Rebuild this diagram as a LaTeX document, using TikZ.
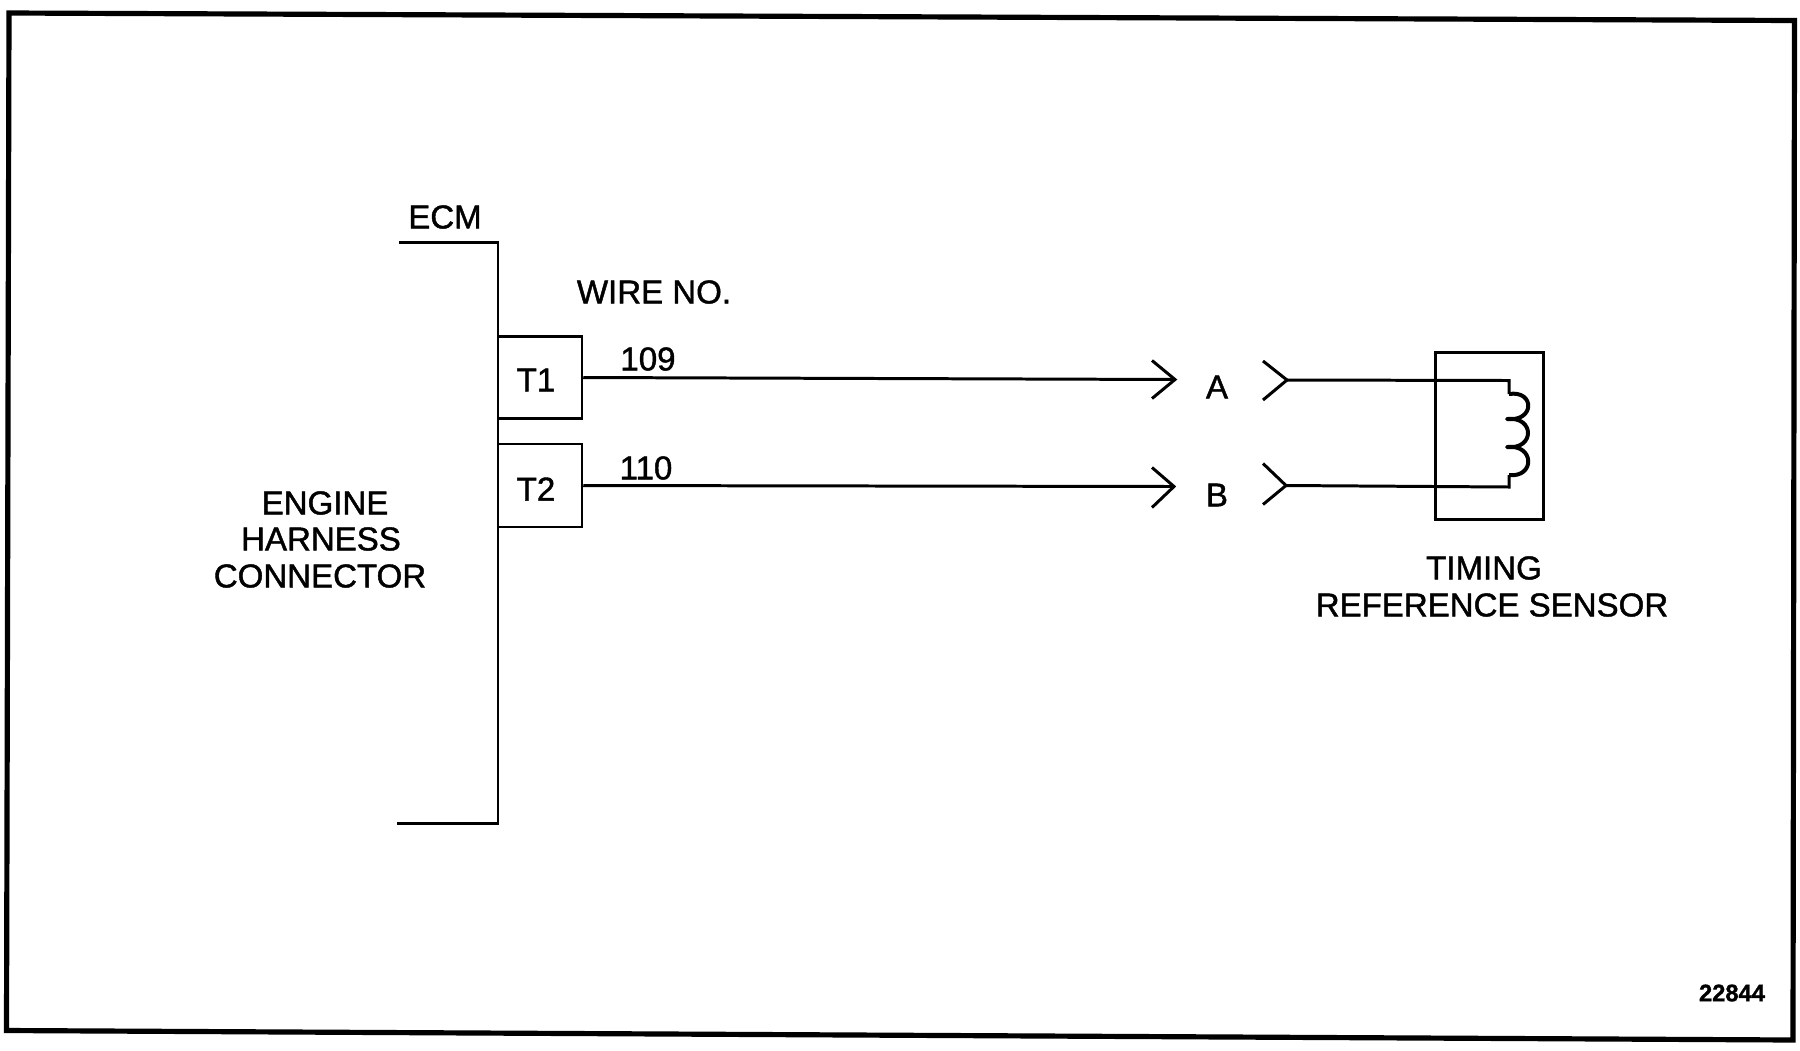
\documentclass[tikz,border=0pt]{standalone}
\usepackage{fontspec}
\setmainfont[FakeBold=1.3]{Liberation Sans}
\tikzset{
  lbl/.style={inner sep=0pt,font=\fontsize{18.8}{21}\selectfont},
  tiny lbl/.style={inner sep=0pt,font=\fontsize{13.5}{16}\selectfont\bfseries},
  pinbox/.style={draw,line width=2.5*0.567pt,minimum width=84*0.2mm,minimum height=82*0.2mm,inner sep=0pt},
  wire/.style={line width=3*0.567pt},
  bracket/.style={line width=3*0.567pt},
  coil/.style={line width=4*0.567pt,line join=round}
}
\begin{document}
\begin{tikzpicture}[x=0.2mm,y=-0.2mm]
  \useasboundingbox (0,0) rectangle (1800,1050);
  \draw[line width=5.2*0.567pt] (9,13) -- (1794.5,20.5) -- (1793,1040) -- (6.5,1030.5) -- cycle;
  \node[lbl] (ecm) at (445,217) {ECM};
  \node[lbl] (wireno) at (654,292) {WIRE NO.};
  \coordinate (ecmtop) at (399,242);
  \coordinate (ecmbot) at (397,823);
  \draw[bracket] (ecmtop) -| (498,823) -- (ecmbot);
  \node[pinbox] (T1) at (540,377.5) {};
  \node[pinbox,minimum height=83*0.2mm] (T2) at (540,485.5) {};
  \node[lbl] (T1txt) at (536,380) {T1};
  \node[lbl] (T2txt) at (536,489) {T2};
  \node[lbl] (n109) at (648,359) {109};
  \node[lbl] (n110) at (646,468) {110};
  \node[lbl] (eng1) at (325,503) {ENGINE};
  \node[lbl] (eng2) at (321,539) {HARNESS};
  \node[lbl] (eng3) at (320,576) {CONNECTOR};
  \coordinate (tipA) at (1175,379.5);
  \coordinate (tipB) at (1174,486.5);
  \coordinate (sockA) at (1287,380);
  \coordinate (sockB) at (1286,485.5);
  \node[lbl] (A) at (1217,387) {A};
  \node[lbl] (B) at (1217,495) {B};
  \draw[wire] (T1.east) -- (tipA);
  \draw[wire] (T2.east) -- (tipB);
  \draw[wire] (tipA) ++(-23,-19) -- (tipA) -- ++(-23,19);
  \draw[wire] (tipB) ++(-22,-19) -- (tipB) -- ++(-22,21);
  \draw[wire] (sockA) ++(-24,-19) -- (sockA) -- ++(-24,20);
  \draw[wire] (sockB) ++(-23,-22) -- (sockB) -- ++(-23,19);
  \node[draw,line width=3*0.567pt,minimum width=108*0.2mm,minimum height=167*0.2mm,inner sep=0pt] (sensor) at (1489,435.5) {};
  \coordinate (coiltop) at (1509,394);
  \coordinate (coilbot) at (1509,475);
  \draw[wire] (sockA) -- (1509,380.5) -- (coiltop);
  \draw[coil] (coiltop)
    .. controls (1535,390) and (1535,422) .. (1507,419)
    .. controls (1535,416) and (1535,450) .. (1507,447)
    .. controls (1535,444) and (1535,478) .. (coilbot);
  \draw[wire] (coilbot) -- (1509,487) -- (sockB);
  \node[lbl] (tim1) at (1484,568) {TIMING};
  \node[lbl] (tim2) at (1492,605) {REFERENCE SENSOR};
  \node[tiny lbl] (fignum) at (1732,993) {22844};
\end{tikzpicture}
\end{document}
